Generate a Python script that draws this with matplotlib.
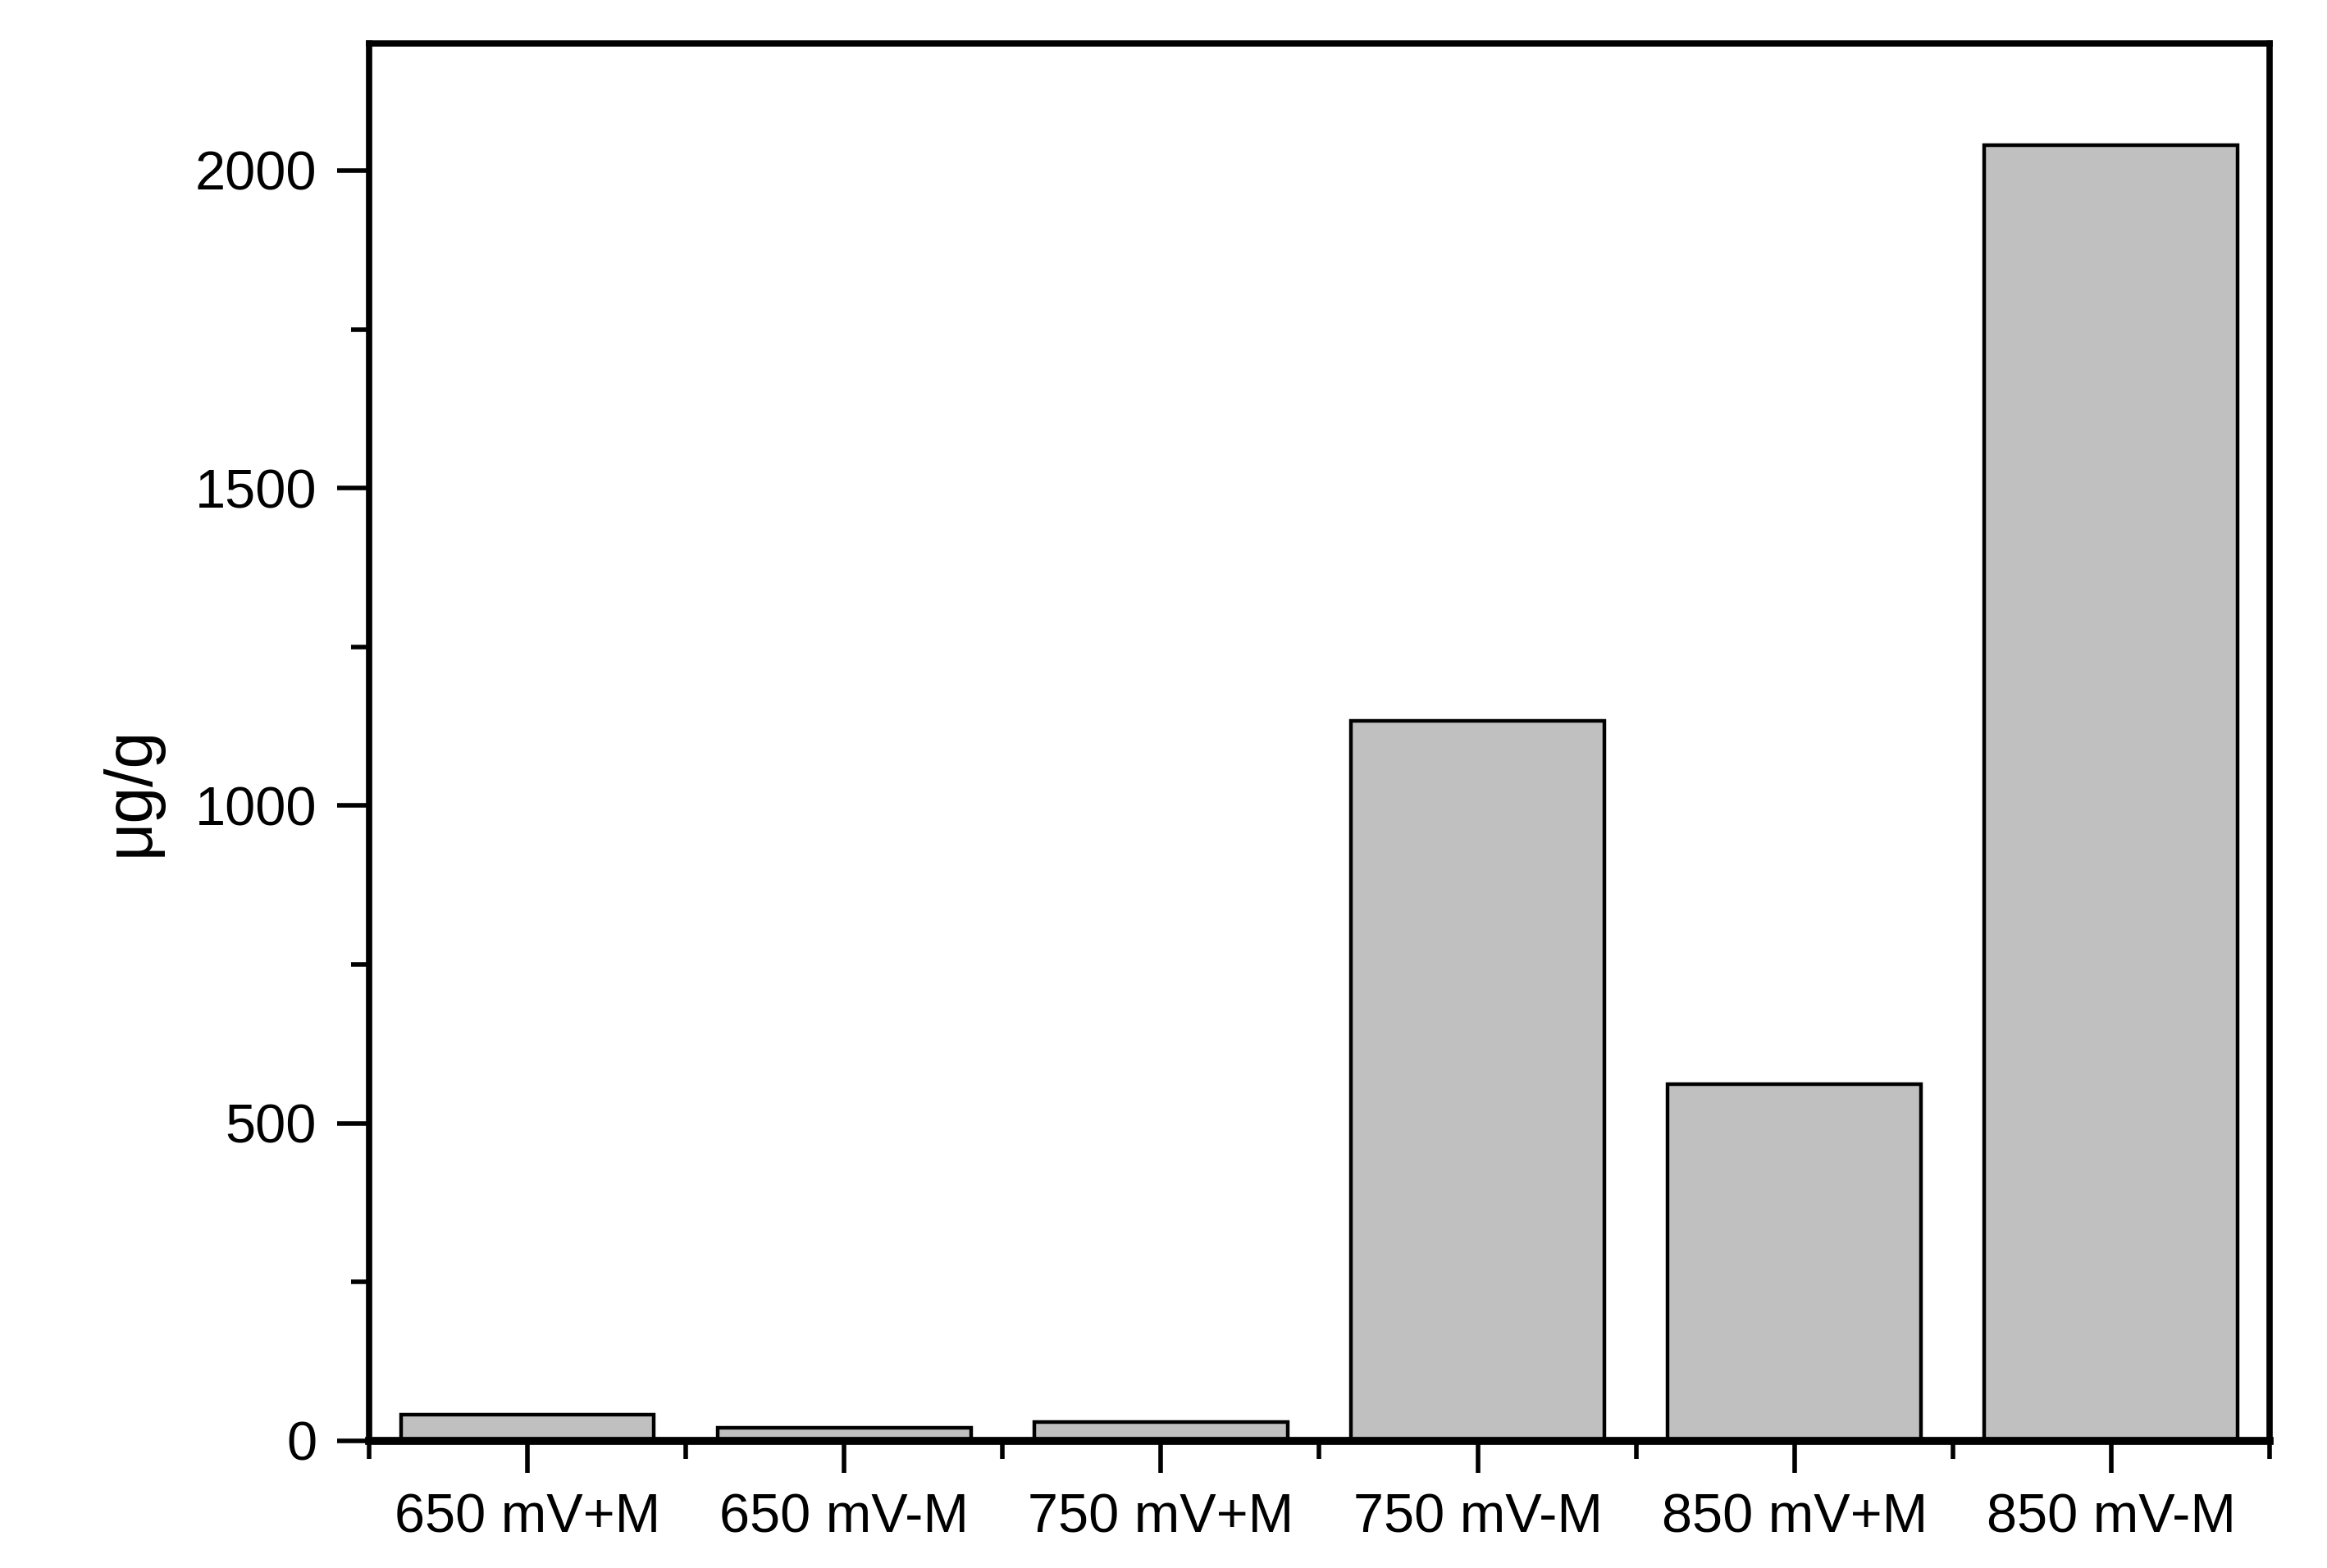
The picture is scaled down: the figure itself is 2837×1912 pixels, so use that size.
import numpy as np
import matplotlib
matplotlib.use('Agg')
from matplotlib import pyplot as plt
from matplotlib.ticker import MultipleLocator, FixedLocator

# datos
categories = ['650 mV+M', '650 mV-M', '750 mV+M', '750 mV-M', '850 mV+M', '850 mV-M']
values = [41, 21, 30, 1133, 562, 2040]

plt.rcParams['font.family'] = ['Liberation Sans', 'DejaVu Sans']

fig = plt.figure(figsize=(28.37, 19.12), dpi=100)
ax = fig.add_axes([0.1586, 0.0811, 0.9753 - 0.1586, 0.9723 - 0.0811])

x = np.arange(len(categories))
ax.bar(x, values, width=0.8, color='#c0c0c0', edgecolor='black', linewidth=3.2)

ax.set_xlim(-0.5, len(categories) - 0.5)
ax.set_ylim(0, 2200)

ax.set_xticks(x)
ax.set_xticklabels(categories, fontsize=48)
ax.xaxis.set_minor_locator(FixedLocator(np.arange(-0.5, len(categories), 1.0)))
ax.yaxis.set_major_locator(MultipleLocator(500))
ax.yaxis.set_minor_locator(MultipleLocator(250))
ax.tick_params(axis='y', labelsize=48)

ax.tick_params(which='major', direction='out', length=28, width=4, pad=18)
ax.tick_params(which='minor', direction='out', length=16, width=4)

ax.set_ylabel('μg/g', fontsize=58)
ax.yaxis.set_label_coords(-0.109, 0.465)

for s in ['left', 'right', 'top']:
    ax.spines[s].set_linewidth(5.5)
ax.spines['bottom'].set_linewidth(7)

fig.savefig('out.png', dpi=100)
